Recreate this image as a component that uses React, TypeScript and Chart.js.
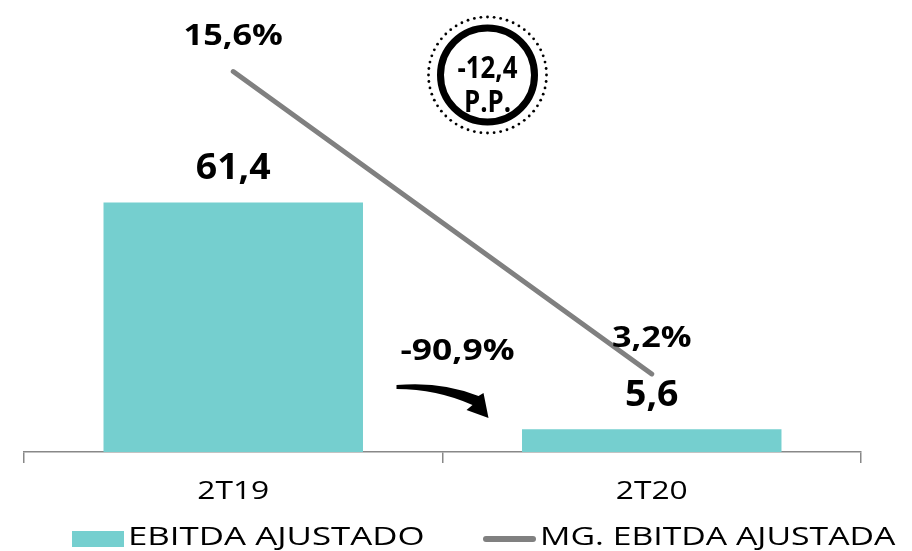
import React, { useEffect, useRef } from "react";
import { Chart, registerables } from "chart.js";

Chart.register(...registerables);

const categories = ["2T19", "2T20"];
const ebitdaValues = [61.4, 5.6];
const marginValues = [15.6, 3.2];
const ebitdaLabels = ["61,4", "5,6"];
const marginLabels = ["15,6%", "3,2%"];
const variationLabel = "-90,9%";
const ppLabels = ["-12,4", "P.P."];
const legendLabels = ["EBITDA AJUSTADO", "MG. EBITDA AJUSTADA"];

const TEAL = "#75CFCF";
const GRAY = "#808080";
const FONT = "'Open Sans', 'Noto Sans', sans-serif";

function wideText(ctx: CanvasRenderingContext2D, text: string, x: number, y: number, sx: number) {
  ctx.save();
  ctx.translate(x, y);
  ctx.scale(sx, 1);
  ctx.fillText(text, 0, 0);
  ctx.restore();
}

const overlayPlugin = {
  id: "overlay",
  afterDraw(chart: any) {
    const ctx = chart.ctx;
    const xs = chart.scales.x;
    const ys = chart.scales.y;
    const y1 = chart.scales.y1;
    ctx.save();
    ctx.fillStyle = "#000";
    ctx.textAlign = "center";
    ctx.textBaseline = "middle";
    // bar labels
    ctx.font = `bold 35px ${FONT}`;
    ebitdaValues.forEach((v, i) => {
      wideText(ctx, ebitdaLabels[i], xs.getPixelForValue(i), ys.getPixelForValue(v) - 33, 1.07);
    });
    // line labels
    ctx.font = `bold 29px ${FONT}`;
    marginValues.forEach((v, i) => {
      wideText(ctx, marginLabels[i], xs.getPixelForValue(i), y1.getPixelForValue(v) - 35, 1.18);
    });
    // tick labels
    ctx.font = `25px ${FONT}`;
    categories.forEach((c, i) => {
      wideText(ctx, c, xs.getPixelForValue(i), xs.top + 40, 1.27);
    });
    // variation label + arrow
    const mid = xs.getPixelForValue(0.5);
    const base = ys.getPixelForValue(0);
    ctx.font = `bold 29px ${FONT}`;
    wideText(ctx, variationLabel, mid + 15, base - 100, 1.22);
    ctx.beginPath();
    const ax = mid - 46;
    const ay = base - 67;
    ctx.moveTo(ax, ay);
    ctx.quadraticCurveTo(ax + 45, ay - 4, ax + 82, ay + 11);
    ctx.lineTo(ax + 87, ay + 8);
    ctx.lineTo(ax + 92, ay + 33);
    ctx.lineTo(ax + 70, ay + 25);
    ctx.lineTo(ax + 76, ay + 20);
    ctx.quadraticCurveTo(ax + 40, ay + 4, ax, ay + 4);
    ctx.closePath();
    ctx.fill();
    // circle
    const cx = mid + 45;
    const cy = base - 377;
    ctx.beginPath();
    ctx.arc(cx, cy, 47, 0, Math.PI * 2);
    ctx.lineWidth = 7;
    ctx.strokeStyle = "#000";
    ctx.stroke();
    const n = 56;
    for (let k = 0; k < n; k++) {
      const a = (k / n) * Math.PI * 2;
      ctx.beginPath();
      ctx.arc(cx + Math.cos(a) * 59, cy + Math.sin(a) * 58, 1.4, 0, Math.PI * 2);
      ctx.fill();
    }
    ctx.font = `bold 30px ${FONT}`;
    wideText(ctx, ppLabels[0], cx, cy - 6, 0.86);
    wideText(ctx, ppLabels[1], cx, cy + 28, 0.86);
    // legend
    ctx.textAlign = "left";
    ctx.font = `26px ${FONT}`;
    const ly = 538;
    ctx.fillStyle = TEAL;
    ctx.fillRect(72, ly - 7, 52, 16);
    ctx.fillStyle = "#000";
    wideText(ctx, legendLabels[0], 128, ly, 1.34);
    ctx.beginPath();
    ctx.moveTo(486, ly + 1);
    ctx.lineTo(533, ly + 1);
    ctx.lineWidth = 6;
    ctx.lineCap = "round";
    ctx.strokeStyle = GRAY;
    ctx.stroke();
    wideText(ctx, legendLabels[1], 540, ly, 1.3);
    ctx.restore();
  },
};

export default function App() {
  const ref = useRef<HTMLCanvasElement>(null);
  useEffect(() => {
    document.body.style.margin = "0";
    const chart = new Chart(ref.current!, {
      type: "bar",
      data: {
        labels: categories,
        datasets: [
          {
            type: "line",
            label: legendLabels[1],
            data: marginValues,
            yAxisID: "y1",
            borderColor: GRAY,
            backgroundColor: GRAY,
            borderWidth: 5,
            pointRadius: 0,
            borderCapStyle: "round",
            order: 0,
          } as any,
          {
            type: "bar",
            label: legendLabels[0],
            data: ebitdaValues,
            yAxisID: "y",
            backgroundColor: TEAL,
            categoryPercentage: 1,
            barPercentage: 0.62,
            order: 1,
          },
        ],
      },
      options: {
        animation: false,
        responsive: false,
        layout: { padding: { left: 24, right: 51, top: 5, bottom: 0 } },
        plugins: { legend: { display: false }, tooltip: { enabled: false } },
        scales: {
          x: {
            offset: true,
            grid: {
              offset: true,
              drawOnChartArea: false,
              drawTicks: true,
              tickLength: 11,
              color: "#888",
              lineWidth: 1.5,
            },
            border: { display: true, color: "#888", width: 1.5 },
            ticks: {
              color: "rgba(0,0,0,0)",
              font: { family: FONT, size: 26 },
              padding: 12,
            },
            afterFit(scale: any) {
              scale.height = 99;
            },
          },
          y: { display: false, min: 0, max: 110 },
          y1: { display: false, min: 0, max: 18.33, position: "right" },
        },
      },
      plugins: [overlayPlugin],
    });
    return () => chart.destroy();
  }, []);
  return (
    <div style={{ position: "fixed", left: 0, top: 0, width: 912, height: 551 }}>
      <canvas ref={ref} width={912} height={551} />
    </div>
  );
}
